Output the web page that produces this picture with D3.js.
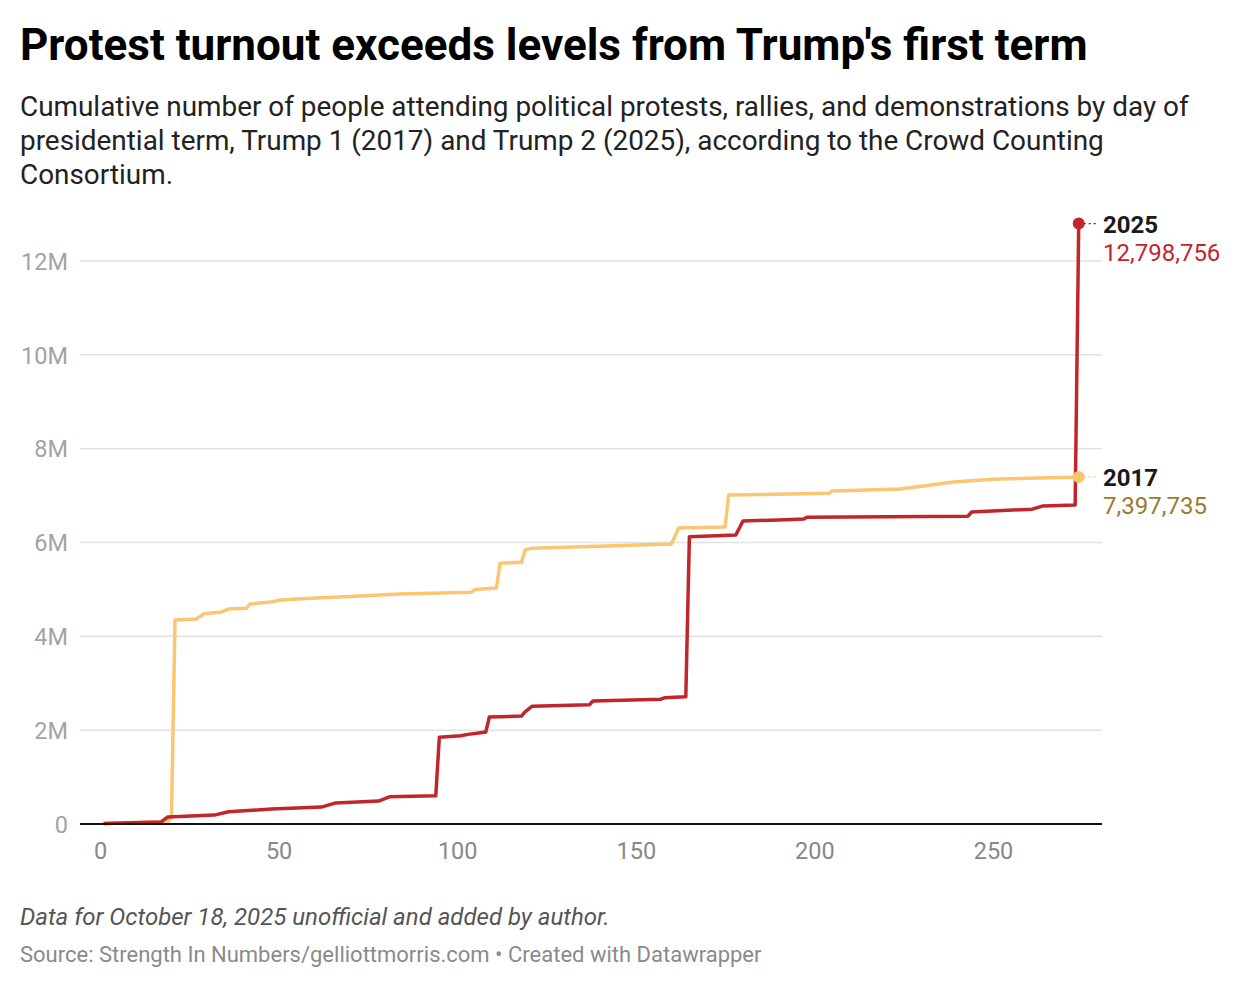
<!DOCTYPE html>
<html>
<head>
<meta charset="utf-8">
<script src="https://cdn.jsdelivr.net/npm/d3@7"></script>
<style>
  html, body { margin: 0; padding: 0; background: #fff; }
  body { width: 1240px; height: 988px; overflow: hidden; font-family: Roboto, "Noto Sans", sans-serif; }
  svg text { font-family: Roboto, "Noto Sans", sans-serif; }
</style>
</head>
<body>
<svg id="chart" width="1240" height="988"></svg>
<script>
// ---- data ----
const days2017 = [1, 19, 20, 21, 27, 29, 34, 36, 41, 42, 48, 50, 56, 70, 84, 104, 105, 111, 112, 118, 119, 121, 160, 162, 175, 176, 204, 205, 224, 230, 239, 250, 272, 274];
const values2017 = [10000, 50000, 150000, 4350000, 4370000, 4480000, 4520000, 4580000, 4600000, 4690000, 4730000, 4770000, 4800000, 4850000, 4900000, 4940000, 5000000, 5030000, 5560000, 5580000, 5840000, 5880000, 5970000, 6310000, 6330000, 7010000, 7050000, 7100000, 7140000, 7200000, 7290000, 7350000, 7390000, 7397735];

const days2025 = [1, 17, 19, 32, 36, 48, 62, 66, 78, 81, 94, 95, 101, 103, 106, 108, 109, 118, 119, 121, 137, 138, 157, 158, 164, 165, 178, 180, 190, 197, 198, 243, 244, 261, 264, 273, 274];
const values2025 = [10000, 40000, 150000, 190000, 260000, 320000, 360000, 450000, 490000, 580000, 600000, 1850000, 1880000, 1910000, 1940000, 1960000, 2280000, 2300000, 2390000, 2510000, 2540000, 2620000, 2660000, 2690000, 2710000, 6120000, 6160000, 6460000, 6480000, 6500000, 6540000, 6560000, 6650000, 6710000, 6780000, 6800000, 12798756];

const yTicks = [0, 2000000, 4000000, 6000000, 8000000, 10000000, 12000000];
const yTickLabels = ["0", "2M", "4M", "6M", "8M", "10M", "12M"];
const xTicks = [0, 50, 100, 150, 200, 250];

const seriesNames = ["2017", "2025"];
const seriesColors = ["#fbc671", "#c1262c"];
const valueLabelColors = ["#9c7a2d", "#c1262c"];

// ---- layout ----
const svg = d3.select("#chart");
const plotLeft = 100, plotRight = 1102, gridLeft = 80;
const plotTop = 261, plotBottom = 824;

const x = d3.scaleLinear().domain([0, 280]).range([plotLeft, plotLeft + 280 * (893 / 250)]);
const y = d3.scaleLinear().domain([0, 12000000]).range([plotBottom, plotTop]);

// title etc
svg.append("text").attr("x", 20).attr("y", 60)
  .attr("font-size", 44).attr("font-weight", 700).attr("fill", "#000")
  .text("Protest turnout exceeds levels from Trump's first term");

const sub = ["Cumulative number of people attending political protests, rallies, and demonstrations by day of",
  "presidential term, Trump 1 (2017) and Trump 2 (2025), according to the Crowd Counting",
  "Consortium."];
sub.forEach((s, i) => {
  svg.append("text").attr("x", 20).attr("y", 116 + i * 34)
    .attr("font-size", 27.9).attr("fill", "#222").text(s);
});

// gridlines
const grid = svg.append("g");
yTicks.forEach((t) => {
  if (t === 0) return;
  grid.append("line").attr("x1", gridLeft).attr("x2", plotRight)
    .attr("y1", y(t)).attr("y2", y(t))
    .attr("stroke", "#e2e2e2").attr("stroke-width", 1.5);
});

// y axis labels
const yAxis = d3.axisLeft(y).tickValues(yTicks).tickFormat((d, i) => yTickLabels[i]).tickSize(0).tickPadding(0);
const gy = svg.append("g").attr("transform", `translate(68,0)`).call(yAxis);
gy.select(".domain").remove();
gy.selectAll("text").attr("font-size", 23.5).attr("fill", "#a3a3a3").attr("dy", "0.35em");

// x axis labels
const xAxis = d3.axisBottom(x).tickValues(xTicks).tickFormat(d3.format("d")).tickSize(0).tickPadding(0);
const gx = svg.append("g").attr("transform", `translate(0,${plotBottom + 35})`).call(xAxis);
gx.select(".domain").remove();
gx.selectAll("text").attr("font-size", 23.5).attr("fill", "#888").attr("dy", "0");

// lines
const line = d3.line().x(d => x(d[0])).y(d => y(d[1]));
const data2017 = days2017.map((d, i) => [d, values2017[i]]);
const data2025 = days2025.map((d, i) => [d, values2025[i]]);

svg.append("path").datum(data2017).attr("d", line)
  .attr("fill", "none").attr("stroke", seriesColors[0]).attr("stroke-width", 3.5)
  .attr("stroke-linejoin", "round");
svg.append("path").datum(data2025).attr("d", line)
  .attr("fill", "none").attr("stroke", seriesColors[1]).attr("stroke-width", 3.5)
  .attr("stroke-linejoin", "round");

// baseline
svg.append("line").attr("x1", gridLeft).attr("x2", plotRight)
  .attr("y1", y(0)).attr("y2", y(0)).attr("stroke", "#111").attr("stroke-width", 2);

// end dots and labels
const ends = [data2017[data2017.length - 1], data2025[data2025.length - 1]];
ends.forEach((e, i) => {
  const cx = x(e[0]), cy = y(e[1]);
  svg.append("line").attr("x1", cx).attr("x2", 1098).attr("y1", cy).attr("y2", cy)
    .attr("stroke", i === 0 ? seriesColors[0] : "#333").attr("stroke-width", 1.2)
    .attr("stroke-dasharray", "2,3");
  svg.append("circle").attr("cx", cx).attr("cy", cy).attr("r", 6)
    .attr("fill", seriesColors[i]);
  svg.append("text").attr("x", 1103).attr("y", cy + 9)
    .attr("font-size", 24).attr("font-weight", 700).attr("fill", "#1a1a1a")
    .text(seriesNames[i]);
  svg.append("text").attr("x", 1103).attr("y", cy + 37)
    .attr("font-size", 24).attr("fill", valueLabelColors[i])
    .text(d3.format(",")(e[1]));
});

// notes
svg.append("text").attr("x", 20).attr("y", 925)
  .attr("font-size", 24).attr("font-style", "italic").attr("fill", "#555")
  .text("Data for October 18, 2025 unofficial and added by author.");
svg.append("text").attr("x", 20).attr("y", 962)
  .attr("font-size", 22).attr("fill", "#8a8a8a")
  .text("Source: Strength In Numbers/gelliottmorris.com • Created with Datawrapper");
</script>
</body>
</html>
